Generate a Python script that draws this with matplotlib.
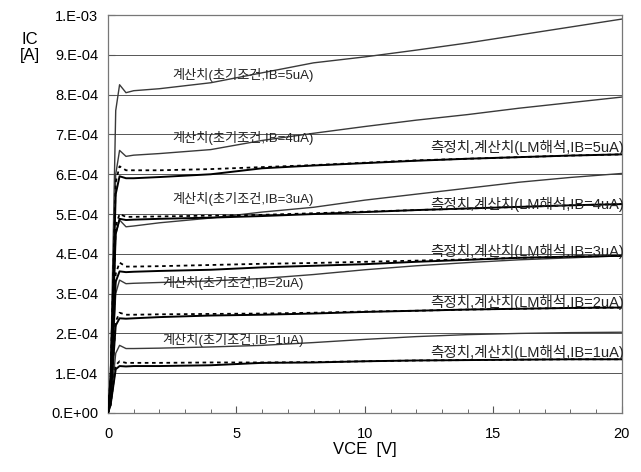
import numpy as np
import matplotlib
matplotlib.use("Agg")
import matplotlib.pyplot as plt
from matplotlib.ticker import FuncFormatter, MultipleLocator

plt.rcParams['font.family'] = ['Liberation Sans', 'Noto Sans CJK KR']
plt.rcParams['font.size'] = 10

# VCE sample points [V]
vce = [0, 0.1, 0.3, 0.45, 0.7, 1, 2, 4, 6, 8, 10, 12, 14, 16, 18, 20]

# IC in units of 1e-4 A
# calculated with initial conditions
init5 = [0, 1.0, 7.6, 8.25, 8.05, 8.1, 8.15, 8.3, 8.55, 8.8, 8.95, 9.12, 9.3, 9.5, 9.7, 9.9]
init4 = [0, 0.8, 6.0, 6.6, 6.45, 6.48, 6.52, 6.62, 6.85, 7.03, 7.2, 7.36, 7.5, 7.66, 7.8, 7.94]
init3 = [0, 0.6, 4.5, 4.85, 4.68, 4.7, 4.78, 4.9, 5.05, 5.17, 5.35, 5.5, 5.65, 5.8, 5.92, 6.02]
init2 = [0, 0.4, 3.0, 3.34, 3.25, 3.26, 3.28, 3.32, 3.38, 3.48, 3.6, 3.7, 3.78, 3.85, 3.9, 3.95]
init1 = [0, 0.2, 1.5, 1.7, 1.62, 1.62, 1.63, 1.66, 1.7, 1.77, 1.85, 1.92, 1.97, 2.0, 2.02, 2.03]

# calculated with LM analysis
lm5 = [0, 0.9, 5.5, 5.95, 5.9, 5.9, 5.93, 6.0, 6.15, 6.22, 6.28, 6.34, 6.39, 6.43, 6.47, 6.5]
lm4 = [0, 0.7, 4.5, 4.88, 4.85, 4.86, 4.88, 4.91, 4.95, 5.0, 5.05, 5.1, 5.14, 5.18, 5.22, 5.25]
lm3 = [0, 0.5, 3.3, 3.56, 3.54, 3.55, 3.57, 3.6, 3.66, 3.7, 3.74, 3.8, 3.85, 3.9, 3.93, 3.95]
lm2 = [0, 0.35, 2.2, 2.38, 2.37, 2.38, 2.41, 2.45, 2.47, 2.5, 2.54, 2.57, 2.6, 2.62, 2.64, 2.65]
lm1 = [0, 0.2, 1.1, 1.18, 1.17, 1.18, 1.18, 1.2, 1.26, 1.27, 1.3, 1.32, 1.33, 1.34, 1.35, 1.35]

# measured
meas5 = [0, 0.9, 5.8, 6.2, 6.1, 6.1, 6.1, 6.13, 6.18, 6.23, 6.29, 6.35, 6.39, 6.43, 6.47, 6.5]
meas4 = [0, 0.7, 4.7, 5.0, 4.93, 4.93, 4.94, 4.96, 4.98, 5.02, 5.06, 5.1, 5.14, 5.18, 5.22, 5.25]
meas3 = [0, 0.5, 3.5, 3.78, 3.68, 3.68, 3.69, 3.72, 3.75, 3.77, 3.8, 3.83, 3.86, 3.9, 3.93, 3.95]
meas2 = [0, 0.35, 2.3, 2.52, 2.47, 2.47, 2.48, 2.49, 2.5, 2.52, 2.55, 2.57, 2.6, 2.62, 2.64, 2.65]
meas1 = [0, 0.2, 1.2, 1.3, 1.26, 1.26, 1.26, 1.27, 1.27, 1.28, 1.3, 1.32, 1.33, 1.34, 1.35, 1.35]

init_labels = ['계산치(초기조건,IB=5uA)', '계산치(초기조건,IB=4uA)', '계산치(초기조건,IB=3uA)',
               '계산치(초기조건,IB=2uA)', '계산치(초기조건,IB=1uA)']
lm_labels = ['측정치,계산치(LM해석,IB=5uA)', '측정치,계산치(LM해석,IB=4uA)', '측정치,계산치(LM해석,IB=3uA)',
             '측정치,계산치(LM해석,IB=2uA)', '측정치,계산치(LM해석,IB=1uA)']
init_label_pos = [(2.49, 8.49), (2.49, 6.91), (2.49, 5.38), (2.1, 3.27), (2.1, 1.83)]
lm_label_y = [6.68, 5.25, 4.05, 2.79, 1.51]

fig = plt.figure(figsize=(6.41, 4.72), dpi=100)
ax = fig.add_axes([0.1685, 0.125, 0.8015, 0.843])

v = np.array(vce)
for y in range(1, 10):
    ax.axhline(y * 1e-4, color='#555555', lw=0.7, zorder=1)

for c in [init5, init4, init3, init2, init1]:
    ax.plot(v, np.array(c) * 1e-4, color='#3a3a3a', lw=1.0, zorder=2)
for c in [lm5, lm4, lm3, lm2, lm1]:
    ax.plot(v, np.array(c) * 1e-4, color='black', lw=1.4, zorder=3)
for c in [meas5, meas4, meas3, meas2, meas1]:
    ax.plot(v, np.array(c) * 1e-4, color='black', lw=1.3, ls=(0, (2, 2)), zorder=4)

for lab, (x, y) in zip(init_labels, init_label_pos):
    ax.text(x, y * 1e-4, lab, fontsize=9.5, ha='left', va='center', color='#222222', zorder=5)
for lab, y in zip(lm_labels, lm_label_y):
    ax.text(20.1, y * 1e-4, lab, fontsize=10.5, ha='right', va='center', color='#222222', zorder=5)

ax.set_xlim(0, 20)
ax.set_ylim(0, 1e-3)
ax.xaxis.set_major_locator(MultipleLocator(5))
ax.xaxis.set_minor_locator(MultipleLocator(1))
ax.yaxis.set_major_locator(MultipleLocator(1e-4))


def sci_fmt(val, pos):
    if abs(val) < 1e-12:
        return '0.E+00'
    e = int(np.floor(np.log10(abs(val)) + 1e-9))
    m = int(round(val / 10 ** e))
    return '%d.E-%02d' % (m, -e)


ax.yaxis.set_major_formatter(FuncFormatter(sci_fmt))
ax.tick_params(axis='both', which='both', direction='in', labelsize=10.5, color='#555555')
ax.tick_params(axis='x', which='major', length=5, pad=10)
ax.tick_params(axis='x', which='minor', length=3)
ax.tick_params(axis='y', length=5, pad=7)
for s in ax.spines.values():
    s.set_color('#777777')
    s.set_linewidth(0.9)

ax.set_xlabel('VCE  [V]', fontsize=12, labelpad=1)
fig.text(0.046, 0.9, 'IC\n[A]', fontsize=12, ha='center', va='center', linespacing=1.1)

fig.savefig('out.png', dpi=100, facecolor='white')
